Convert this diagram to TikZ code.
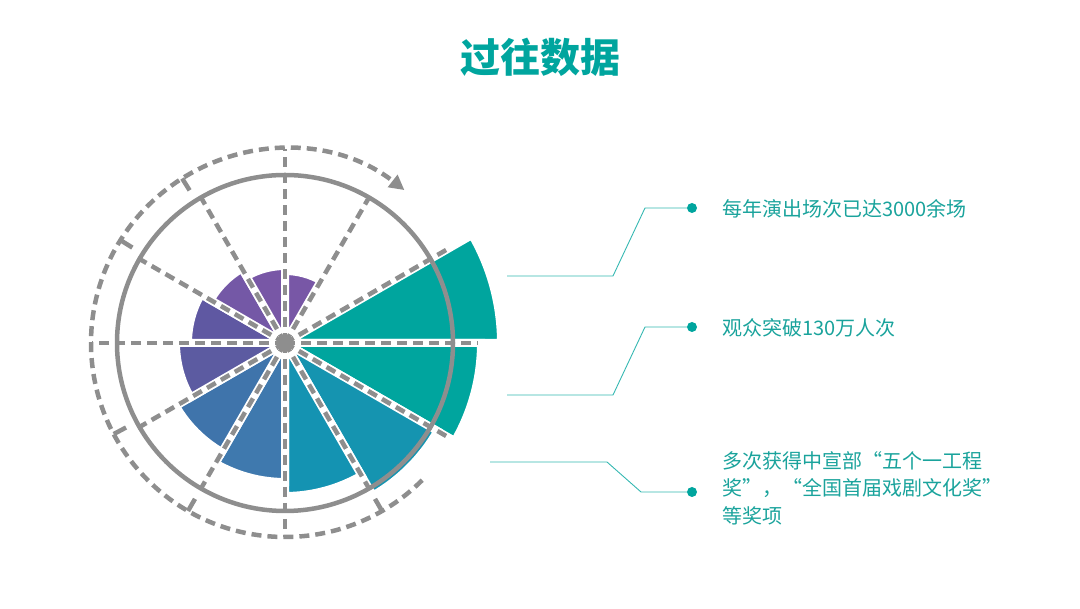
\documentclass[tikz,border=0pt]{standalone}
\usepackage{fontspec}
\setmainfont{Noto Sans CJK SC}
\usetikzlibrary{arrows.meta,calc}
\definecolor{teal1}{HTML}{00A59E}
\definecolor{txt}{HTML}{1AA39C}
\definecolor{gr}{HTML}{8E8E8E}
\definecolor{c2}{HTML}{1594B0}
\definecolor{c3}{HTML}{1493B2}
\definecolor{c4}{HTML}{3F79AE}
\definecolor{c5}{HTML}{3F74AB}
\definecolor{c6}{HTML}{5C5BA1}
\definecolor{c7}{HTML}{5F58A2}
\definecolor{c8}{HTML}{7458A6}
\definecolor{c9}{HTML}{7857A6}
\tikzset{gd/.style={draw=gr,line width=4.5pt,dash pattern=on 10pt off 6pt},
 wedgest/.style={draw=white,line width=8pt,line join=miter},
 lbl/.style={text=txt,font=\fontsize{20}{27.5}\selectfont,anchor=west,align=left,inner sep=0},
 dotn/.style={circle,fill=teal1,minimum size=10pt,inner sep=0},
 conn/.style={draw=teal1!80,line width=0.9pt}}
\newcommand\mywedge[4]{\fill[#4,wedgest] (C) -- ++(#1:#3) arc[start angle=#1,end angle=#2,radius=#3] -- cycle;}
\begin{document}
\begin{tikzpicture}[x=1pt,y=1pt]
\useasboundingbox (0,0) rectangle (1080,609);
\coordinate (C) at (285,266);
\mywedge{0}{30}{216}{teal1}
\mywedge{-30}{0}{196}{teal1}
\mywedge{-60}{-30}{176}{c2}
\mywedge{-90}{-60}{153}{c3}
\mywedge{-120}{-90}{139}{c4}
\mywedge{-150}{-120}{126}{c5}
\mywedge{-180}{-150}{109}{c6}
\mywedge{150}{180}{97}{c7}
\mywedge{120}{150}{86}{c8}
\mywedge{90}{120}{77}{c9}
\mywedge{60}{90}{72}{c9}
\draw[gr,line width=4.5pt] (C) circle[radius=168];
\foreach \a/\r in {90/194,-90/194,180/193,0/193,30/190,-30/190,60/166,120/168,150/170,-150/170,-120/168,-60/168}
  \draw[gd] (C) -- ++(\a:\r);
\fill[gr] (C) circle[radius=5];
\draw[gd,-{Triangle[length=15pt,width=15pt]}] ($(C)+(-45:194)$) arc[start angle=-45,end angle=-308,radius=194];
\foreach \a in {148,-152,-120,-60,122}
  \draw[gr,line width=4.5pt] (C) ++(\a:180) -- ++(\a:14);
\node[text=teal1,font=\fontsize{40}{42}\bfseries] (title) at (540,552) {过往数据};
\node[dotn] (d1) at (692,401) {};
\node[dotn] (d2) at (692,282) {};
\node[dotn] (d3) at (692,117) {};
\node[lbl] (t1) at (722,400) {每年演出场次已达3000余场};
\node[lbl] (t2) at (722,281) {观众突破130万人次};
\node[lbl,anchor=north west] (t3) at (722,158) {多次获得中宣部“五个一工程\\奖”，“全国首届戏剧文化奖”\\等奖项};
\coordinate (a1) at (507,333); \coordinate (b1) at (613,333); \coordinate (e1) at (645,401);
\coordinate (a2) at (507,214); \coordinate (b2) at (613,214); \coordinate (e2) at (645,282);
\coordinate (a3) at (490,147); \coordinate (b3) at (607,147); \coordinate (e3) at (641,117);
\draw[conn] (a1) -- (b1) -- (e1) -- (d1);
\draw[conn] (a2) -- (b2) -- (e2) -- (d2);
\draw[conn] (a3) -- (b3) -- (e3) -- (d3);
\end{tikzpicture}
\end{document}
